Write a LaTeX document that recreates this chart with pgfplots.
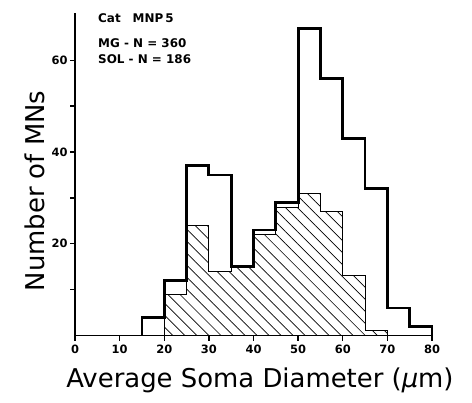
\documentclass[border=0pt]{standalone}
\usepackage{fontspec}
\setmainfont{DejaVu Sans}
\usepackage{pgfplots}
\pgfplotsset{compat=1.18}
\usetikzlibrary{patterns.meta}

\begin{document}
\begin{tikzpicture}
\begin{axis}[
  at={(75bp,67.5bp)}, anchor=south west,
  scale only axis, width=357bp, height=322.5bp,
  xmin=0, xmax=80, ymin=0, ymax=70.3,
  axis lines=left,
  axis line style={-, line width=1.6bp},
  tick align=outside, major tick length=5bp,
  tick style={line width=1.4bp, black},
  xtick={0,10,...,80},
  ytick={10,20,...,60}, yticklabels={,20,,40,,60},
  /pgf/number format/assume math mode=true,
  ticklabel style={font=\fontsize{11.5}{12}\selectfont\bfseries},
  xticklabel style={yshift=-1bp},
  yticklabel style={xshift=1bp},
  xlabel={Average Soma Diameter (\textit{μ}m)},
  ylabel={Number of MNs},
  label style={font=\fontsize{26}{30}\selectfont},
  xlabel style={at={(axis description cs:0.518,-0.138)}, anchor=center},
  ylabel style={at={(axis description cs:-0.112,0.448)}, anchor=center},
  clip=false,
]
% SOL motoneurons: hatched histogram
\addplot[const plot, draw=black, line width=1bp,
  pattern={Lines[angle=-45, distance=8.5bp, line width=0.7bp]}]
  coordinates {(20,9) (25,24) (30,14) (35,15) (40,22) (45,28)
               (50,31) (55,27) (60,13) (65,1) (70,1)} \closedcycle;
% MG motoneurons: heavy outline
\addplot[const plot, draw=black, line width=2.8bp, line join=miter]
  coordinates {(15,0) (15,4) (20,12) (25,37) (30,35) (35,15) (40,23)
               (45,29) (50,67) (55,56) (60,43) (65,32) (70,6)
               (75,2) (80,2) (80,0)};
\node[anchor=west, font=\fontsize{12}{14}\selectfont\bfseries]
  at (axis cs:4.4,69.2) {Cat\quad MNP\,5};
\node[anchor=west, font=\fontsize{12}{14}\selectfont\bfseries]
  at (axis cs:4.4,63.8) {MG - N = 360};
\node[anchor=west, font=\fontsize{12}{14}\selectfont\bfseries]
  at (axis cs:4.4,60.2) {SOL - N = 186};
\end{axis}
\pgfresetboundingbox
\path[use as bounding box] (0,0) rectangle (472bp,403bp);
\end{tikzpicture}
\end{document}
